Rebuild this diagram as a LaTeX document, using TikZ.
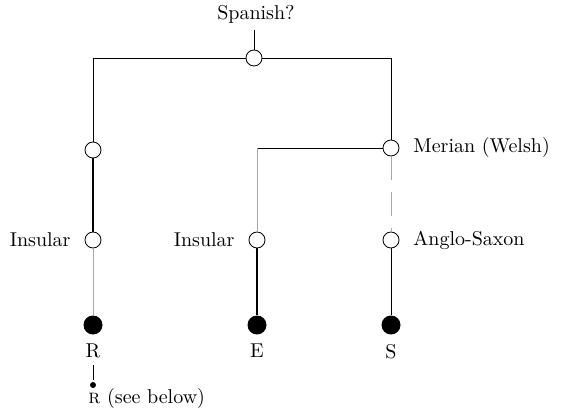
\documentclass[tikz,border=0pt]{standalone}
\begin{document}
\begin{tikzpicture}[x=0.5pt,y=-0.5pt,
  open/.style={circle, draw, fill=white, inner sep=0pt, minimum size=8pt, line width=0.4pt},
  blob/.style={circle, fill, inner sep=0pt, minimum size=9.5pt},
  tinydot/.style={circle, fill, inner sep=0pt, minimum size=3pt},
  faint/.style={gray!70, line width=0.35pt},
  heavy/.style={line width=0.8pt},
  every label/.style={label distance=3.5pt}]
 \useasboundingbox (0,0) rectangle (580,412);
 % top of the tree
 \node (sp) at (256,14) {Spanish?};
 \node (top) [open] at (254,58) {};
 % left line
 \node (l1) [open] at (93,150) {};
 \node (ins1) [open, label=left:Insular] at (93,240) {};
 \node (R) [blob, label={[name=rl, label distance=1pt]below:R}] at (93,325) {};
 \node (r) [tinydot] at (93,385) {};
 \node (seebelow) [anchor=west, inner sep=0pt] at (88,398) {\textsc{r} (see below)};
 % right line
 \node (mer) [open, label=right:Merian (Welsh)] at (391,148) {};
 \node (ins2) [open, label=left:Insular] at (257,240) {};
 \node (E) [blob, label={[label distance=1pt]below:E}] at (257,325) {};
 \node (as) [open, label=right:Anglo-Saxon] at (391,240) {};
 \node (S) [blob, label={[label distance=1pt]below:S}] at (391,325) {};
 \draw[line width=0.35pt] (top |- sp.south) -- (top);
 \draw[line width=0.35pt] (top) -| (l1);
 \draw[line width=0.35pt] (top) -| (mer);
 \draw[heavy] (l1) -- (ins1);
 \draw[faint] (ins1) -- (R);
 \draw[shorten >=1pt] (rl) -- (r);
 \draw[line width=0.35pt] (mer) -| (ins2);
 \draw[faint] (ins2 |- mer) -- (ins2);
 \draw[heavy] (ins2) -- (E);
 \draw[faint, dashed, dash pattern=on 12pt off 6pt] (mer) -- (as);
 \draw (as) -- (S);
\end{tikzpicture}
\end{document}
